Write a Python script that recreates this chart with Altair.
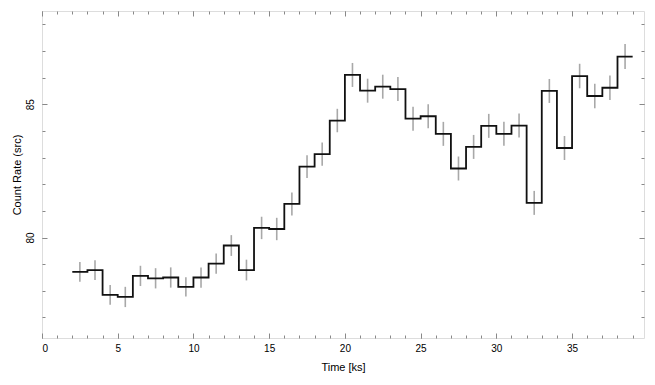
import altair as alt
import pandas as pd

# Light-curve bins (1 ks wide), start times [ks]
bin_start = [2, 3, 4, 5, 6, 7, 8, 9, 10, 11, 12, 13, 14, 15, 16, 17, 18, 19, 20,
             21, 22, 23, 24, 25, 26, 27, 28, 29, 30, 31, 32, 33, 34, 35, 36, 37, 38]
bin_width = 1.0
rate = [78.71, 78.78, 77.85, 77.77, 78.56, 78.47, 78.50, 78.15, 78.50, 79.02,
        79.70, 78.78, 80.36, 80.32, 81.26, 82.66, 83.13, 84.39, 86.10, 85.51,
        85.66, 85.57, 84.46, 84.55, 83.89, 82.59, 83.40, 84.19, 83.89, 84.20,
        81.30, 85.50, 83.36, 86.06, 85.31, 85.62, 86.79]
rate_err = [0.37, 0.37, 0.37, 0.38, 0.38, 0.38, 0.38, 0.36, 0.38, 0.38,
            0.39, 0.39, 0.42, 0.42, 0.43, 0.43, 0.44, 0.44, 0.45, 0.45,
            0.45, 0.45, 0.45, 0.45, 0.45, 0.45, 0.45, 0.45, 0.45, 0.45,
            0.45, 0.45, 0.45, 0.46, 0.46, 0.46, 0.47]

x_major = [0, 5, 10, 15, 20, 25, 30, 35]
x_minor = list(range(0, 40))
y_major = [80, 85]
y_minor = list(range(77, 89))
x_domain = [0, 39.75]
y_domain = [76.23, 88.5]

W, H = 602, 327

# step line: each bin start, plus the end of the last bin
line_df = pd.DataFrame({
    "t": bin_start + [bin_start[-1] + bin_width],
    "r": rate + [rate[-1]],
})
err_df = pd.DataFrame({
    "tc": [s + bin_width / 2 for s in bin_start],
    "lo": [r - e for r, e in zip(rate, rate_err)],
    "hi": [r + e for r, e in zip(rate, rate_err)],
})

xs = alt.Scale(domain=x_domain, nice=False, zero=False)
ys = alt.Scale(domain=y_domain, nice=False, zero=False)
FONT = "Liberation Sans"

# layer 1: error bars + labelled axes
errbars = alt.Chart(err_df).mark_rule(color="#a8a8a8", strokeWidth=1.6).encode(
    x=alt.X("tc:Q", scale=xs, axis=alt.Axis(
        orient="bottom", values=x_major, ticks=False, domain=False, grid=False,
        labelPadding=5, title="Time [ks]", titlePadding=8, format="d",
        titleFontWeight="normal", titleFont=FONT, titleFontSize=11)),
    y=alt.Y("lo:Q", scale=ys, axis=alt.Axis(
        orient="left", values=y_major, ticks=False, domain=False, grid=False,
        labelAngle=270, labelAlign="center", labelBaseline="bottom",
        labelPadding=7, title="Count Rate (src)", titlePadding=3, format="d",
        titleFontWeight="normal", titleFont=FONT, titleFontSize=11)),
    y2="hi:Q",
)

def tick_axis(orient, values, size, offset):
    return alt.Axis(orient=orient, values=values, tickSize=size, offset=offset,
                    labels=False, domain=False, grid=False, title="")

# layer 2: step line, inward major ticks on bottom / left
step = alt.Chart(line_df).mark_line(
    interpolate="step-after", color="#111111", strokeWidth=1.8).encode(
    x=alt.X("t:Q", scale=xs, axis=tick_axis("top", x_major, 5, -H)),
    y=alt.Y("r:Q", scale=ys, axis=tick_axis("right", y_major, 5, -W)),
)

def ghost(xaxis, yaxis):
    return alt.Chart(line_df).mark_line(strokeOpacity=0).encode(
        x=alt.X("t:Q", scale=xs, axis=xaxis),
        y=alt.Y("r:Q", scale=ys, axis=yaxis),
    )

g_minor_bl = ghost(tick_axis("top", x_minor, 3, -H), tick_axis("right", y_minor, 3, -W))
g_major_tr = ghost(tick_axis("bottom", x_major, 5, -H), tick_axis("left", y_major, 5, -W))
g_minor_tr = ghost(tick_axis("bottom", x_minor, 3, -H), tick_axis("left", y_minor, 3, -W))

chart = alt.layer(errbars, step, g_minor_bl, g_major_tr, g_minor_tr).resolve_axis(
    x="independent", y="independent"
).properties(
    width=W, height=H,
    autosize=alt.AutoSizeParams(type="none"),
    padding={"left": 34, "top": 3, "right": 3, "bottom": 39},
).configure_view(
    stroke="#666666", strokeWidth=1.5
).configure_axis(
    tickColor="#333333", tickWidth=1,
    labelFont=FONT, labelFontSize=11, labelColor="#111111",
    titleFont=FONT, titleFontSize=11, titleFontWeight="normal", titleColor="#111111",
).configure(background="white")

chart.save("out.html", embed_options={"renderer": "svg", "actions": False})
